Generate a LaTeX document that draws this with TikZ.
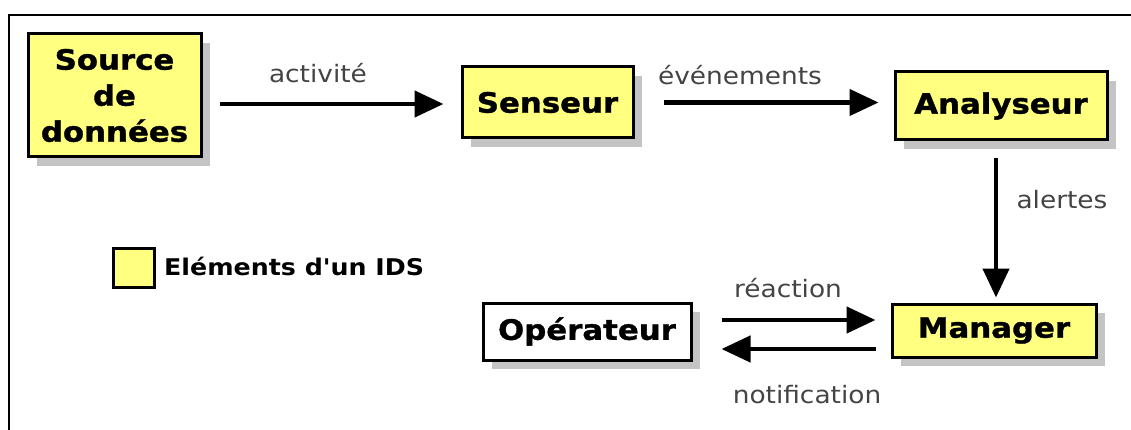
\documentclass[tikz,border=0pt]{standalone}
\usepackage{fontspec}
\newfontfamily\boxfont{DejaVu Sans Bold}[FakeStretch=1.1,FakeBold=1.2]
\newfontfamily\legfont{DejaVu Sans Bold}[FakeStretch=1.1]
\newfontfamily\lblfont{DejaVu Sans}[FakeStretch=1.1]
\usetikzlibrary{arrows.meta,shadows}
\definecolor{idsyellow}{HTML}{FFFF80}
\definecolor{shadowgray}{HTML}{C4C4C4}
\definecolor{lblgray}{HTML}{444444}
\tikzset{
  idsbox/.style={draw=black, line width=3pt, fill=idsyellow, inner sep=0pt, align=center,
    font=\boxfont\fontsize{28}{36}\selectfont,
    drop shadow={shadow xshift=9pt, shadow yshift=-9pt, fill=shadowgray, opacity=1}},
  plainbox/.style={idsbox, fill=white},
  flow/.style={line width=4.5pt, -{Triangle[length=29pt,width=26pt]}},
  lbl/.style={text=lblgray, font=\lblfont\fontsize{24}{28}\selectfont, inner sep=0pt},
  frameline/.style={line width=2.5pt, black}
}
\begin{document}
\begin{tikzpicture}[x=1pt,y=-1pt]
\useasboundingbox (0,0) rectangle (1131,430);
% frame
\coordinate (fTL) at (9,15);
\coordinate (fTR) at (1131,15);
\coordinate (fBL) at (9,430);
\draw[frameline] (fTR) -- (fTL) -- (fBL);
% boxes
\node[idsbox, minimum width=173pt, minimum height=123pt] (src) at (114.5,95.5) {Source\\de\\données};
\node[idsbox, minimum width=171pt, minimum height=71pt] (sen) at (547.5,102.5) {Senseur};
\node[idsbox, minimum width=212pt, minimum height=68pt] (ana) at (1001,106) {Analyseur};
\node[idsbox, minimum width=204pt, minimum height=53pt] (man) at (994,330.5) {Manager};
\node[plainbox, minimum width=208pt, minimum height=57pt] (ope) at (587,331.5) {Opérateur};
% legend
\node[draw=black, line width=3pt, fill=idsyellow, minimum width=41pt, minimum height=39pt, inner sep=0pt] (leg) at (133.5,267.5) {};
\node[anchor=west, inner sep=0pt, font=\legfont\fontsize{23}{27}\selectfont] (legtxt) at (164,266) {Eléments d'un IDS};
% arrows
\coordinate (a1s) at (218,104);
\coordinate (a1e) at (445,104);
\draw[flow] ([xshift=17pt]src.east |- a1s) -- ([xshift=-17pt]sen.west |- a1e);
\draw[flow] ([xshift=29pt]sen.east) -- ([xshift=-15pt]sen.east -| ana.west);
\draw[flow] ([yshift=-17pt]ana.south -| man.north) ++(2,0) -- ([yshift=5pt,xshift=2pt]man.north);
\coordinate (r1) at (0,320);
\coordinate (r2) at (0,349);
\draw[flow] ([xshift=29pt]ope.east |- r1) -- ([xshift=-15pt]man.west |- r1);
\draw[flow] ([xshift=-15pt]man.west |- r2) -- ([xshift=29pt]ope.east |- r2);
% labels
\node[lbl] (l1) at (318,73) {activité};
\node[lbl] (l2) at (740,75) {événements};
\node[lbl] (l3) at (1062,200) {alertes};
\node[lbl] (l4) at (788,288) {réaction};
\node[lbl] (l5) at (807,395) {notification};
\end{tikzpicture}
\end{document}
